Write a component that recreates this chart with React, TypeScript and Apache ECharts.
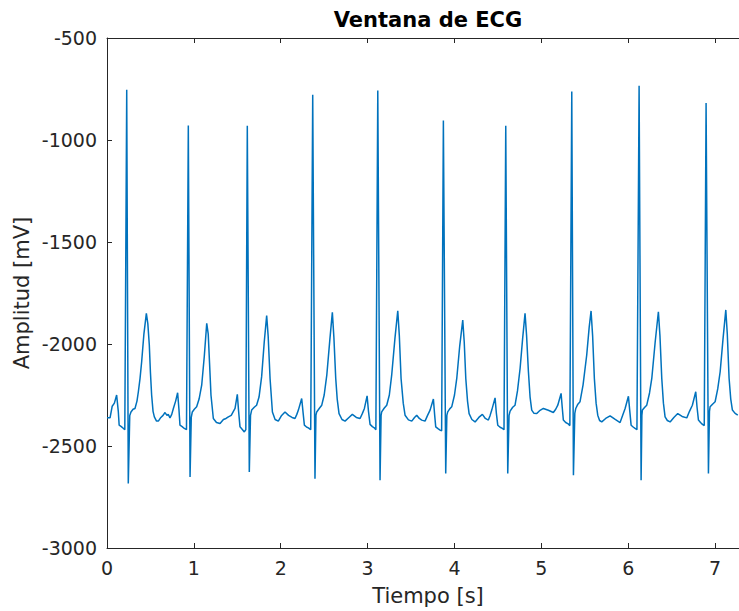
import React, { useEffect, useRef } from "react";
import * as echarts from "echarts";

const tiempo: number[] = [
  0.000, 0.035, 0.060, 0.085, 0.111, 0.130, 0.140, 0.165, 0.190, 0.205, 0.227, 0.245, 0.262, 0.276, 0.300, 0.322, 0.345, 0.361, 0.380, 0.399, 0.425, 0.453, 0.470, 0.487, 0.500, 0.514, 0.530, 0.545, 0.570, 0.591, 0.620, 0.645, 0.668, 0.690, 0.705, 0.725, 0.745, 0.764, 0.790, 0.813, 0.828, 0.840, 0.865, 0.890, 0.915, 0.936, 0.956, 0.970, 0.982,
  1.005, 1.032, 1.060, 1.090, 1.120, 1.148, 1.165, 1.180, 1.197, 1.224, 1.260, 1.301, 1.340, 1.370, 1.397, 1.430, 1.455, 1.474, 1.500, 1.515, 1.531, 1.560, 1.581, 1.598, 1.615, 1.638, 1.652, 1.665, 1.695, 1.722, 1.750, 1.780, 1.810, 1.838, 1.855, 1.877, 1.904, 1.935, 1.972,
  2.010, 2.049, 2.090, 2.130, 2.164, 2.185, 2.203, 2.241, 2.258, 2.272, 2.300, 2.318, 2.345, 2.368, 2.394, 2.405, 2.414, 2.445, 2.472, 2.500, 2.530, 2.565, 2.594, 2.612, 2.633, 2.650, 2.671, 2.705, 2.740, 2.785, 2.824, 2.870, 2.913, 2.940, 2.963, 2.994,
  3.010, 3.028, 3.055, 3.077, 3.095, 3.117, 3.143, 3.155, 3.162, 3.190, 3.220, 3.250, 3.277, 3.315, 3.347, 3.365, 3.385, 3.410, 3.431, 3.470, 3.508, 3.540, 3.565, 3.595, 3.623, 3.661, 3.690, 3.719, 3.757, 3.772, 3.784, 3.810, 3.834, 3.852, 3.872, 3.899, 3.912, 3.922, 3.945, 3.968,
  4.000, 4.026, 4.060, 4.095, 4.112, 4.130, 4.150, 4.168, 4.200, 4.237, 4.280, 4.321, 4.355, 4.390, 4.410, 4.429, 4.467, 4.482, 4.498, 4.525, 4.551, 4.570, 4.590, 4.613, 4.628, 4.640, 4.670, 4.697, 4.725, 4.755, 4.785, 4.812, 4.830, 4.851, 4.870, 4.889, 4.915, 4.947, 4.985,
  5.023, 5.080, 5.138, 5.165, 5.189, 5.227, 5.240, 5.253, 5.280, 5.304, 5.328, 5.350, 5.369, 5.385, 5.396, 5.420, 5.445, 5.480, 5.522, 5.550, 5.572, 5.590, 5.610, 5.630, 5.649, 5.670, 5.695, 5.740, 5.791, 5.850, 5.906, 5.935, 5.964,
  6.002, 6.018, 6.033, 6.060, 6.079, 6.100, 6.125, 6.148, 6.157, 6.163, 6.190, 6.213, 6.245, 6.271, 6.310, 6.347, 6.365, 6.386, 6.405, 6.424, 6.450, 6.482, 6.525, 6.570, 6.620, 6.674, 6.705, 6.738, 6.777, 6.792, 6.808, 6.832, 6.854, 6.875, 6.896, 6.923, 6.935, 6.942, 6.970,
  7.000, 7.030, 7.058, 7.090, 7.123, 7.140, 7.161, 7.180, 7.199, 7.230, 7.261,
];

// Amplitude (mV) of each point, same order as tiempo
const amplitud: number[] = [
  -2362, -2362, -2305, -2290, -2250, -2330, -2398, -2405, -2414, -2420, -754, -2684, -2350, -2333, -2320, -2316, -2280, -2234, -2170, -2087, -1950, -1850, -1900, -2005, -2140, -2251, -2330, -2357, -2378, -2378, -2360, -2350, -2336, -2350, -2345, -2362, -2345, -2316, -2280, -2239, -2320, -2398, -2405, -2414, -2420, -929, -2652, -2360, -2333,
  -2320, -2308, -2270, -2202, -2060, -1899, -1950, -2090, -2251, -2365, -2385, -2390, -2370, -2365, -2357, -2350, -2330, -2316, -2247, -2330, -2406, -2420, -2431, -2420, -930, -2627, -2350, -2324, -2310, -2300, -2260, -2160, -1990, -1861, -1960, -2169, -2333, -2370, -2378,
  -2350, -2333, -2350, -2360, -2365, -2345, -2324, -2267, -2340, -2398, -2408, -2411, -2420, -778, -2660, -2350, -2333, -2315, -2300, -2250, -2153, -1980, -1845, -1970, -2169, -2270, -2341, -2370, -2378, -2360, -2345, -2360, -2365, -2340, -2316, -2254,
  -2330, -2394, -2405, -2411, -2420, -757, -2668, -2350, -2333, -2315, -2300, -2250, -2153, -1970, -1837, -1960, -2169, -2290, -2349, -2372, -2378, -2360, -2349, -2365, -2373, -2378, -2350, -2324, -2270, -2350, -2406, -2415, -2422, -2425, -904, -2635, -2350, -2333, -2318, -2308,
  -2250, -2169, -2010, -1883, -1990, -2169, -2280, -2341, -2370, -2382, -2360, -2345, -2365, -2373, -2350, -2324, -2264, -2340, -2398, -2408, -2414, -2420, -930, -2635, -2350, -2329, -2310, -2300, -2230, -2120, -1970, -1850, -1960, -2136, -2260, -2324, -2340, -2341, -2325,
  -2316, -2325, -2336, -2320, -2300, -2242, -2310, -2373, -2385, -2390, -2400, -762, -2643, -2340, -2316, -2295, -2283, -2200, -2054, -1920, -1838, -1960, -2169, -2290, -2349, -2375, -2382, -2365, -2352, -2370, -2385, -2350, -2316,
  -2256, -2330, -2398, -2408, -2414, -2420, -734, -2668, -2350, -2324, -2310, -2300, -2240, -2169, -1990, -1842, -1960, -2169, -2290, -2357, -2375, -2382, -2360, -2341, -2355, -2362, -2330, -2300, -2234, -2310, -2373, -2385, -2394, -2400, -819, -2635, -2330, -2308, -2295,
  -2283, -2220, -2136, -1980, -1833, -1950, -2169, -2270, -2324, -2340, -2349,
];

const yTicks = { min: -3000, max: -500, step: 500 };
const xTicks = { min: 0, max: 7.39, step: 1 };

const AXIS_COLOR = "#262626";
const FONT = "DejaVu Sans";

export default function App() {
  const ref = useRef<HTMLDivElement>(null);

  useEffect(() => {
    if (!ref.current) return;
    const chart = echarts.init(ref.current, undefined, { renderer: "svg" });
    const data = tiempo.map((t, i) => [t, amplitud[i]]);

    const baseX = {
      type: "value" as const,
      min: xTicks.min,
      max: xTicks.max,
      interval: xTicks.step,
      splitLine: { show: false },
      axisLine: { show: true, onZero: false, lineStyle: { color: AXIS_COLOR, width: 1 } },
      axisTick: { show: true, inside: true, length: 5, lineStyle: { color: AXIS_COLOR, width: 1 } },
    };

    chart.setOption({
      animation: false,
      backgroundColor: "#ffffff",
      grid: { left: 107, top: 38, width: 642, height: 510, containLabel: false },
      xAxis: [
        {
          ...baseX,
          position: "bottom",
          axisLabel: {
            show: true,
            color: AXIS_COLOR,
            fontSize: 19,
            fontFamily: FONT,
            margin: 10,
            showMaxLabel: false,
            formatter: (v: number) => String(v),
          },
        },
        {
          ...baseX,
          position: "top",
          axisLabel: { show: false },
        },
      ],
      yAxis: {
        type: "value",
        min: yTicks.min,
        max: yTicks.max,
        interval: yTicks.step,
        splitLine: { show: false },
        axisLine: { show: true, onZero: false, lineStyle: { color: AXIS_COLOR, width: 1 } },
        axisTick: { show: true, inside: true, length: 5, lineStyle: { color: AXIS_COLOR, width: 1 } },
        axisLabel: {
          color: AXIS_COLOR,
          fontSize: 19,
          fontFamily: FONT,
          margin: 10,
          formatter: (v: number) => String(v),
        },
      },
      series: [
        {
          type: "line",
          xAxisIndex: 0,
          data,
          showSymbol: false,
          symbol: "none",
          clip: true,
          lineStyle: { color: "#0072BD", width: 1.5 },
          emphasis: { disabled: true },
        },
      ],
      graphic: [
        {
          type: "text",
          x: 428,
          y: 20,
          style: {
            text: "Ventana de ECG",
            fill: "#000000",
            fontSize: 21,
            fontWeight: "bold",
            fontFamily: FONT,
            align: "center",
            verticalAlign: "middle",
          },
        },
        {
          type: "text",
          x: 428,
          y: 596,
          style: {
            text: "Tiempo [s]",
            fill: AXIS_COLOR,
            fontSize: 21,
            fontFamily: FONT,
            align: "center",
            verticalAlign: "middle",
          },
        },
        {
          type: "text",
          x: 22,
          y: 293,
          rotation: Math.PI / 2,
          style: {
            text: "Amplitud [mV]",
            fill: AXIS_COLOR,
            fontSize: 21,
            fontFamily: FONT,
            align: "center",
            verticalAlign: "middle",
          },
        },
      ],
    });

    return () => chart.dispose();
  }, []);

  return (
    <div style={{ position: "fixed", left: 0, top: 0, width: 739, height: 611, background: "#fff", overflow: "hidden" }}>
      <div ref={ref} style={{ position: "absolute", left: 0, top: 0, width: 760, height: 611 }} />
    </div>
  );
}
